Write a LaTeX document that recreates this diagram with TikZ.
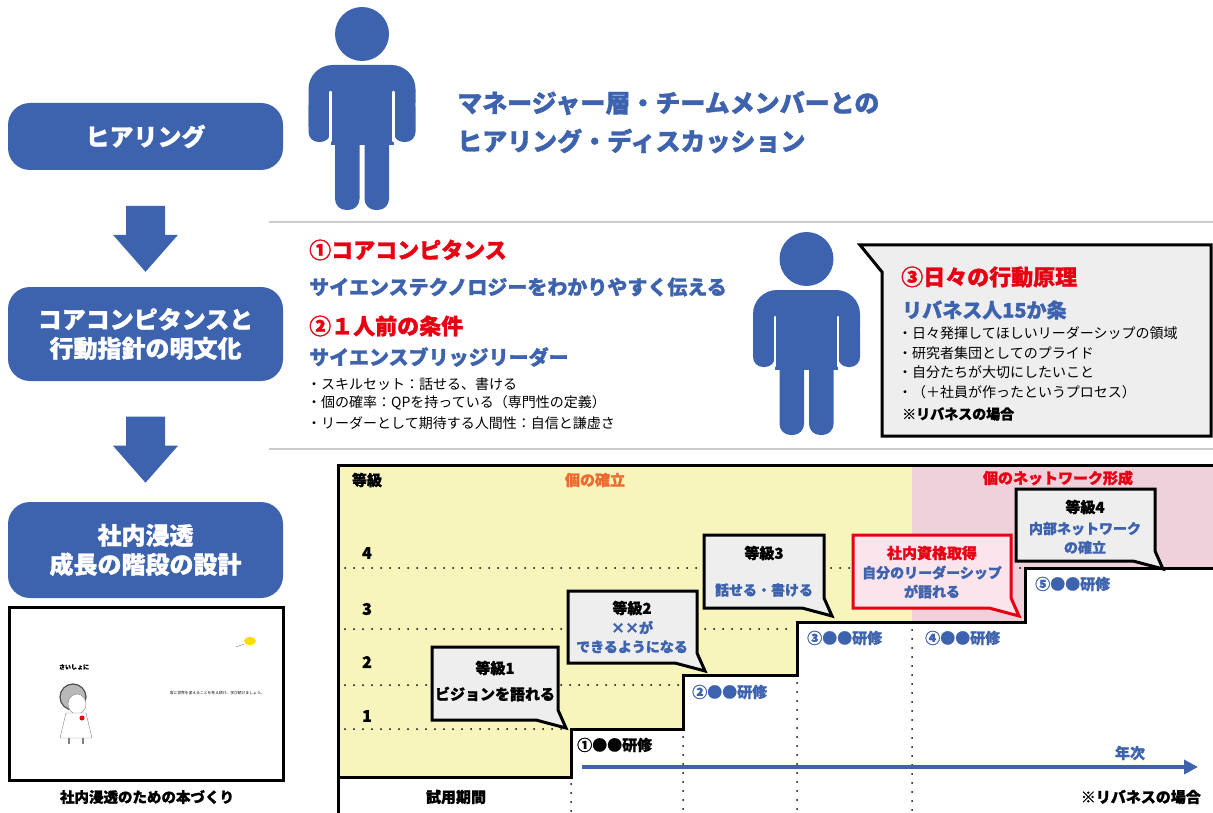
\documentclass[tikz,border=0pt]{standalone}
\usepackage{fontspec}
\setmainfont{Noto Sans CJK JP}[BoldFeatures={FakeBold=1.2}]
\usepackage{tikz}
\usetikzlibrary{calc}
\usetikzlibrary{arrows.meta}
\usetikzlibrary{positioning}

\definecolor{flowblue}{HTML}{3E63AE}
\definecolor{alertred}{HTML}{E60012}
\definecolor{stageorange}{HTML}{EE6A2E}
\definecolor{stageyellow}{HTML}{F8F5BC}
\definecolor{stagepink}{HTML}{EFD1DC}
\definecolor{bubblegray}{HTML}{EEEEEE}
\definecolor{bubblepink}{HTML}{FCE4EC}
\definecolor{rulegray}{HTML}{CCCCCC}

\newcommand\pxfont[2]{\fontsize{#1}{#2}\selectfont}
% speech box with its tail at the lower right corner
\newcommand\callbox[5][bubble]{%
  \draw[#1] (#2,#3) -- (#4,#3) -- (#4,#5-10) -- (#4+8,#5+8) -- (#4-22,#5) -- (#2,#5) -- cycle;}

\tikzset{
  flowbox/.style={fill=flowblue, text=white, rounded corners=22pt, minimum width=275pt,
    align=center, inner sep=0pt, font=\bfseries\pxfont{24}{29}},
  lefttext/.style={anchor=west, inner sep=0pt},
  redhead/.style={lefttext, text=alertred, font=\bfseries\pxfont{22}{22}},
  bluehead/.style={lefttext, text=flowblue, font=\bfseries\pxfont{20}{20}},
  bullet/.style={lefttext, font=\pxfont{14}{14}},
  bubble/.style={fill=bubblegray, draw=black, line width=3pt},
  redbubble/.style={fill=bubblepink, draw=alertred, line width=3pt},
  grade/.style={inner sep=0pt, font=\bfseries\pxfont{15}{15}},
  gradeblue/.style={grade, text=flowblue, align=center, font=\bfseries\pxfont{14}{19}},
  training/.style={lefttext, text=flowblue, font=\bfseries\pxfont{15}{15}},
  dotline/.style={line width=2pt, dash pattern=on 0pt off 9pt, line cap=round},
  flowarrow/.pic={
    \fill[flowblue] (-19.5,-32) -- (19.5,-32) -- (19.5,-3) -- (32.5,-3) -- (0,34)
      -- (-32.5,-3) -- (-19.5,-3) -- cycle;},
  person/.pic={
    \fill[flowblue] (0,27) circle[radius=27pt];
    \fill[flowblue] (-53.5,120) [rounded corners=24pt] |- (0,58) -| (53.5,120) [sharp corners] -- cycle;
    \fill[flowblue, rounded corners=10pt] (-53.5,90) rectangle (-31.5,135) (31.5,90) rectangle (53.5,135);
    \fill[flowblue] (-31.5,58) rectangle (31.5,138);
    \fill[flowblue, rounded corners=11pt] (-27,125) rectangle (-2.5,203) (2.5,125) rectangle (27,203);
    \draw[white, line width=2.5pt, line cap=round] (-31.5,85) -- (-31.5,134) (31.5,85) -- (31.5,134);}
}

\begin{document}
\begin{tikzpicture}[x=1pt, y=-1pt]
  \useasboundingbox (0,0) rectangle (1213,813);

  % left column: three steps
  \node[flowbox, minimum height=67pt] (hear) at (145.5,136.5) {ヒアリング};
  \node[flowbox, minimum height=94pt] (core) at (145.5,334) {コアコンピタンスと\\行動指針の明文化};
  \node[flowbox, minimum height=96pt] (spread) at (145.5,550) {社内浸透\\成長の階段の設計};
  \pic at ($(hear.south)!0.58!(core.north)$) {flowarrow};
  \pic at ($(core.south)!0.56!(spread.north)$) {flowarrow};

  % the book
  \draw[line width=3pt] (9,607) rectangle (283,780);
  \node[font=\bfseries\pxfont{6}{6}] (pagetitle) at (74,667) {さいしょに};
  \draw[gray!60!black, line width=1.2pt, fill=gray!55] (73,697) circle[radius=13pt];
  \draw[gray, fill=white] (77,704) ellipse[x radius=9pt, y radius=10pt];
  \draw[gray, fill=white] (66,713) -- (60,738) -- (92,738) -- (86,713) -- cycle;
  \draw[gray, line width=2pt] (69,738) -- (69,744) (83,738) -- (83,744);
  \fill[alertred] (82,718) circle[radius=2.5pt];
  \node[font=\pxfont{3.8}{4}] (pageline) at (217,693) {常に世界を変えることを考え続け、学び続けましょう。};
  \fill[yellow!80!orange] (250,641) ellipse[x radius=6pt, y radius=4pt];
  \draw[gray] (236,647) -- (244,644);
  \node[grade, font=\bfseries\pxfont{14.5}{14.5}] (bookcap) at (147,797) {社内浸透のための本づくり};

  % separators
  \draw[rulegray, line width=2pt] (269,222) -- (1213,222);
  \draw[rulegray, line width=2pt] (269,449) -- (1213,449);

  % hearing
  \pic at (362,7) {person};
  \node[lefttext, text=flowblue, font=\bfseries\pxfont{25}{25}] (talk1) at (457,103) {マネージャー層・チームメンバーとの};
  \node[lefttext, text=flowblue, font=\bfseries\pxfont{25}{25}] (talk2) at (457,141) {ヒアリング・ディスカッション};

  % core competence
  \node[redhead] (comp) at (309,250) {①コアコンピタンス};
  \node[bluehead] (compdesc) at (309,287) {サイエンステクノロジーをわかりやすく伝える};
  \node[redhead] (cond) at (309,326) {②１人前の条件};
  \node[bluehead] (conddesc) at (309,357) {サイエンスブリッジリーダー};
  \node[bullet] (cond1) at (307,384) {・スキルセット：話せる、書ける};
  \node[bullet] (cond2) at (307,403) {・個の確率：QPを持っている（専門性の定義）};
  \node[bullet] (cond3) at (307,423) {・リーダーとして期待する人間性：自信と謙虚さ};

  \pic at (806.5,232) {person};
  \draw[bubble] (860,245) -- (1211,245) -- (1211,436) -- (882,436) -- (882,272) -- cycle;
  \node[redhead] (rule) at (901,277) {③日々の行動原理};
  \node[bluehead, font=\bfseries\pxfont{20}{20}] (rule15) at (902,310) {リバネス人15か条};
  \node[bullet] (rule1) at (898,333) {・日々発揮してほしいリーダーシップの領域};
  \node[bullet] (rule2) at (898,353) {・研究者集団としてのプライド};
  \node[bullet] (rule3) at (898,372) {・自分たちが大切にしたいこと};
  \node[bullet] (rule4) at (898,392) {・（＋社員が作ったというプロセス）};
  \node[bullet, font=\bfseries\pxfont{14}{14}] (rulenote) at (902,414) {※リバネスの場合};

  % growth stairs
  \fill[stageyellow] (338,465) -- (912,465) -- (912,622) -- (797,622) -- (797,675) -- (683,675)
    -- (683,729) -- (571,729) -- (571,777) -- (338,777) -- cycle;
  \fill[stagepink] (912,465) -- (1213,465) -- (1213,568) -- (1025,568) -- (1025,622) -- (912,622) -- cycle;
  \draw[dotline] (345,729) -- (566,729);
  \draw[dotline] (345,685) -- (680,685);
  \draw[dotline] (345,629) -- (794,629);
  \draw[dotline] (345,568) -- (1020,568);
  \draw[dotline] (571,784) -- (571,813);
  \draw[dotline] (683,737) -- (683,813);
  \draw[dotline] (797,683) -- (797,813);
  \draw[dotline] (912,630) -- (912,813);
  \draw[line width=3pt] (338,777) -- (571,777) -- (571,729) -- (683,729) -- (683,675) -- (797,675)
    -- (797,622) -- (1025,622) -- (1025,568) -- (1213,568);
  \draw[line width=3pt] (338,813) -- (338,465) -- (1213,465);

  \node[grade] (axis) at (367,480) {等級};
  \node[grade, text=stageorange] (stage1) at (595,480) {個の確立};
  \node[grade, text=alertred] (stage2) at (1058,478) {個のネットワーク形成};
  \foreach \lv/\yy in {1/716,2/662,3/609,4/553}
    \node[font=\bfseries\pxfont{16}{16}, inner sep=0pt] (lv\lv) at (367,\yy) {\lv};

  \callbox{432}{647}{558}{720}
  \node[grade] (g1) at (495,668) {等級1};
  \node[grade] (g1t) at (495,694) {ビジョンを語れる};
  \callbox{568}{591}{697}{663}
  \node[grade] (g2) at (632,608) {等級2};
  \node[gradeblue] (g2t) at (632,637) {××が\\できるようになる};
  \callbox{704}{535}{824}{608}
  \node[grade] (g3) at (764,553) {等級3};
  \node[gradeblue] (g3t) at (764,590) {話せる・書ける};
  \callbox[redbubble]{853}{535}{1011}{608}
  \node[grade, text=alertred] (lic) at (932,553) {社内資格取得};
  \node[gradeblue] (lict) at (932,582) {自分のリーダーシップ\\が語れる};
  \callbox{1016}{489}{1155}{561}
  \node[grade] (g4) at (1085,507) {等級4};
  \node[gradeblue] (g4t) at (1085,538) {内部ネットワーク\\の確立};

  \node[training, text=black] (tr1) at (577,745) {①●●研修};
  \node[training] (tr2) at (692,692) {②●●研修};
  \node[training] (tr3) at (807,638) {③●●研修};
  \node[training] (tr4) at (925,638) {④●●研修};
  \node[training] (tr5) at (1035,584) {⑤●●研修};

  \coordinate (yearstart) at (582,767);
  \coordinate (yearend) at (1198,767);
  \draw[flowblue, line width=4pt, -{Triangle[length=14pt, width=14pt]}] (yearstart) -- (yearend);
  \node[grade, text=flowblue] (years) at (1130,753) {年次};
  \node[grade] (trial) at (456,797) {試用期間};
  \node[grade, anchor=east] (note) at (1201,797) {※リバネスの場合};
\end{tikzpicture}
\end{document}
